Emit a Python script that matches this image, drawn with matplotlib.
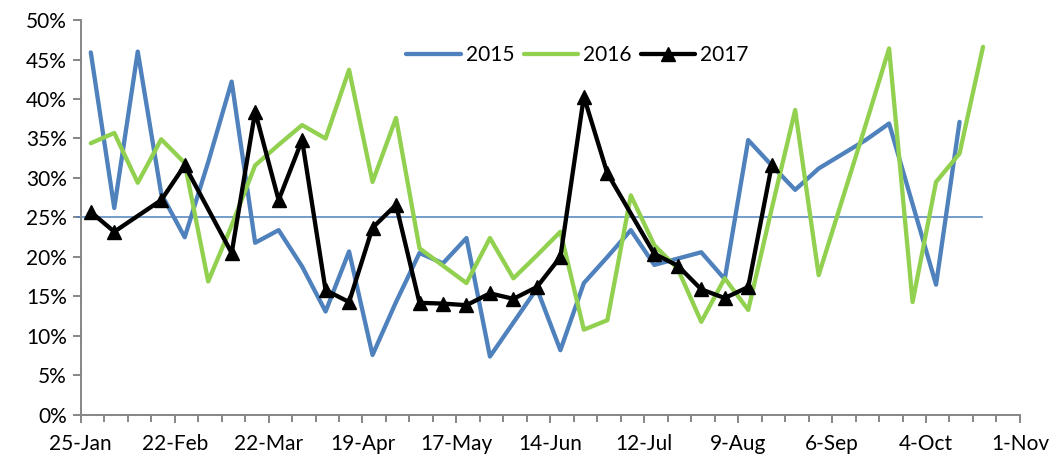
import numpy as np
import matplotlib
matplotlib.use("Agg")
import matplotlib.pyplot as plt
from matplotlib.ticker import FixedLocator, FuncFormatter

plt.rcParams['font.family'] = ['Lato', 'DejaVu Sans']

# x positions: days after 25-Jan (weekly observations)
week_days = [3 + 7 * k for k in range(39)]
tick_days = [0, 28, 56, 84, 112, 140, 168, 196, 224, 252, 280]
tick_labels = ["25-Jan", "22-Feb", "22-Mar", "19-Apr", "17-May", "14-Jun",
               "12-Jul", "9-Aug", "6-Sep", "4-Oct", "1-Nov"]

y2015 = [45.9, 26.2, 46.0, 28.0, 22.5, 32.0, 42.2, 21.8, 23.4, 18.8,
         13.1, 20.7, 7.6, 14.3, 20.5, 19.2, 22.4, 7.4, 11.7, 16.0,
         8.2, 16.7, 20.0, 23.4, 19.0, 19.8, 20.6, 17.2, 34.8, 31.6,
         28.5, 31.2, 33.0, 34.8, 36.9, 26.7, 16.5, 37.1]
y2016 = [34.4, 35.7, 29.4, 34.9, 31.9, 16.9, 24.0, 31.6, 34.2, 36.7,
         35.0, 43.7, 29.5, 37.6, 21.1, 18.9, 16.7, 22.4, 17.3, 20.2,
         23.2, 10.8, 12.0, 27.8, 21.5, 18.5, 11.8, 17.3, 13.3, 26.1,
         38.6, 17.7, 27.2, 36.7, 46.4, 14.3, 29.5, 33.1, 46.6]
y2017 = [25.7, 23.2, np.nan, 27.2, 31.6, np.nan, 20.5, 38.4, 27.2, 34.8,
         15.8, 14.3, 23.7, 26.6, 14.2, 14.1, 13.9, 15.4, 14.7, 16.2,
         20.0, 40.3, 30.6, np.nan, 20.4, 18.9, 15.9, 14.8, 16.2, 31.6]
ref_level = 25.0
ref_span = [-1.2, 268.6]

fig = plt.figure(figsize=(10.58, 4.63), dpi=100)
ax = fig.add_axes([0.0763, 0.1037, 0.964 - 0.0763, 0.9568 - 0.1037])

blue = '#4F81BD'
green = '#92D050'

x15 = week_days[:len(y2015)]
x16 = week_days[:len(y2016)]
x17 = np.array(week_days[:len(y2017)])
a17 = np.array(y2017)
m = ~np.isnan(a17)

lw = 3.1
ax.plot(x15, y2015, color=blue, lw=lw, solid_joinstyle='round',
        solid_capstyle='round', label='2015', zorder=3)
ax.plot(x16, y2016, color=green, lw=lw, solid_joinstyle='round',
        solid_capstyle='round', label='2016', zorder=3)
ax.plot(x17[m], a17[m], color='black', lw=lw, solid_joinstyle='round',
        solid_capstyle='round', label='2017', zorder=4,
        marker='^', ms=10)

ax.plot(ref_span, [ref_level, ref_level], color=blue, lw=1.1, clip_on=False, zorder=2)

ax.set_xlim(0, 280)
ax.set_ylim(0, 50)

ax.xaxis.set_major_locator(FixedLocator(tick_days))
ax.set_xticklabels(tick_labels)
ax.xaxis.set_minor_locator(FixedLocator(list(range(0, 281, 7))))
ax.yaxis.set_major_locator(FixedLocator(list(range(0, 51, 5))))
ax.yaxis.set_major_formatter(FuncFormatter(lambda v, p: f"{int(v)}%"))

gray = '#868686'
for s in ['top', 'right']:
    ax.spines[s].set_visible(False)
for s in ['left', 'bottom']:
    ax.spines[s].set_color(gray)
    ax.spines[s].set_linewidth(1.4)

ax.tick_params(axis='both', which='major', direction='out', color=gray,
               width=1.4, length=6, labelsize=15, labelcolor='black')
ax.tick_params(axis='x', which='minor', direction='out', color=gray,
               width=1.4, length=5)
ax.tick_params(axis='x', which='major', pad=8)
ax.tick_params(axis='y', which='major', pad=4)

ax.legend(loc='center', bbox_to_anchor=(0.529, 0.911), ncol=3, frameon=False,
          fontsize=15, handlelength=2.6, handletextpad=0.25, columnspacing=0.45,
          borderaxespad=0, borderpad=0)

fig.savefig('out.png', dpi=100)
